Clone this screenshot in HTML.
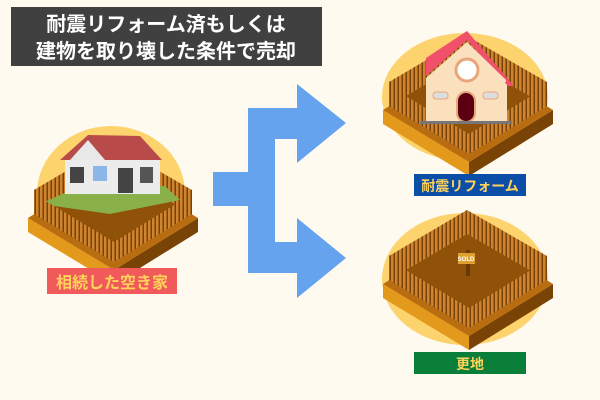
<!DOCTYPE html>
<html><head><meta charset="utf-8"><style>
html,body{margin:0;padding:0;background:#fffaef;}
svg{display:block}
text{font-family:"Liberation Sans","Noto Sans CJK JP",sans-serif;font-weight:bold}
</style></head><body>
<svg width="600" height="400" viewBox="0 0 600 400" xmlns="http://www.w3.org/2000/svg">
<defs>
<pattern id="st" width="4" height="10" patternUnits="userSpaceOnUse">
  <rect width="4" height="10" fill="#7a4206"/>
  <rect width="2.5" height="10" fill="#cf8430"/>
</pattern>
<g id="plat">
  <polygon points="-84,0 2,52 2,66 -84,14" fill="#e39a1c"/>
  <polygon points="2,52 86,0 86,14 2,66" fill="#7a4306"/>
  <polygon points="-84,0 0,-52 86,0 2,52" fill="#b86d10"/>
  <polygon points="-78,-4 0,-50 80,-4 2,44" fill="#8f5208"/>
  <polygon points="-78,-4 0,-50 0,-74 -78,-28" fill="url(#st)"/>
  <polygon points="0,-50 80,-4 80,-28 0,-74" fill="url(#st)"/>
</g>
<g id="front">
  <polygon points="-78,-4 2,44 2,24 -78,-24" fill="url(#st)"/>
  <polygon points="2,44 80,-4 80,-24 2,24" fill="url(#st)"/>
</g>
</defs>
<rect x="11" y="7" width="311" height="59" fill="#404040"/>
<text x="166" y="31" fill="#fff" font-size="20" text-anchor="middle">耐震リフォーム済もしくは</text>
<text x="166" y="58" fill="#fff" font-size="20" text-anchor="middle">建物を取り壊した条件で売却</text>

<ellipse cx="111" cy="193" rx="74" ry="67" fill="#fdd36e"/>
<ellipse cx="465" cy="97" rx="83" ry="64" fill="#fdd36e"/>
<ellipse cx="465" cy="279" rx="83" ry="66" fill="#fdd36e"/>

<use href="#plat" transform="translate(112,218)"/>
<use href="#plat" transform="translate(467,110)"/>
<use href="#plat" transform="translate(467,284)"/>

<!-- old house -->
<polygon points="40,204 80,186 165,186 180,200 110,214" fill="#8ab04a"/>
<rect x="65" y="158" width="95" height="36" fill="#ececec"/>
<polygon points="60,160 88,135 140,136 162,160" fill="#b84a4a"/>
<polygon points="70,160 88,140 105,160" fill="#e8e8e8"/>
<rect x="70" y="167" width="14" height="16" fill="#444"/>
<rect x="93" y="166" width="14" height="15" fill="#8ab6e8"/>
<rect x="118" y="168" width="15" height="25" fill="#444"/>
<rect x="140" y="167" width="13" height="16" fill="#555"/>
<use href="#front" transform="translate(112,218)"/>

<!-- new house -->
<use href="#front" transform="translate(467,110)"/>
<rect x="426" y="80" width="81" height="42" fill="#fae0bd"/>
<polygon points="426,58 467,31 514,86 508,86 467,40 426,76" fill="#f0506a"/>
<polygon points="426,78 467,42 506,80 506,82 426,82" fill="#fae0bd"/>
<circle cx="467" cy="70" r="11" fill="#fff" stroke="#e7a77a" stroke-width="3"/>
<rect x="457" y="92" width="18" height="30" rx="9" fill="#5a0010" stroke="#e7a77a" stroke-width="2"/>
<rect x="433" y="92" width="15" height="7" rx="3" fill="#ddd" stroke="#e7a77a"/>
<rect x="483" y="92" width="15" height="7" rx="3" fill="#ddd" stroke="#e7a77a"/>
<rect x="420" y="121" width="92" height="3" fill="#777"/>

<!-- sold sign -->
<rect x="466" y="250" width="4" height="26" fill="#6a3a06"/>
<rect x="458" y="253" width="17" height="11" fill="#e0a030"/>
<text x="466" y="261" font-size="6" fill="#fff" text-anchor="middle">SOLD</text>
<use href="#front" transform="translate(467,284)"/>

<!-- arrows -->
<polygon fill="#65a3ef" points="213,172 248,172 248,108 297,108 297,84 346,123 297,163 297,139 275,139 275,242 297,242 297,218 346,258 297,298 297,273 248,273 248,206 213,206"/>

<rect x="47" y="268" width="130" height="26" fill="#f05a5a"/>
<text x="112" y="288" font-size="16" fill="#ffd25a" text-anchor="middle">相続した空き家</text>
<rect x="414" y="174" width="112" height="22" fill="#0a4ea8"/>
<text x="470" y="191" font-size="14" fill="#ffd25a" text-anchor="middle">耐震リフォーム</text>
<rect x="414" y="352" width="112" height="22" fill="#0a7f3a"/>
<text x="470" y="369" font-size="14" fill="#ffd25a" text-anchor="middle">更地</text>
</svg>
</body></html>
